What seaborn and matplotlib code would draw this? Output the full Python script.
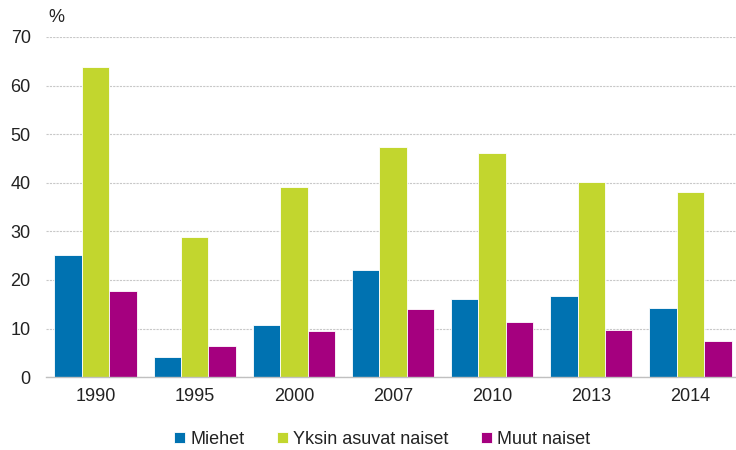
import matplotlib
matplotlib.use("Agg")
import matplotlib.pyplot as plt
import seaborn as sns
import pandas as pd

years = ["1990", "1995", "2000", "2007", "2010", "2013", "2014"]
miehet = [25.1, 4.1, 10.7, 22.0, 16.0, 16.6, 14.3]
yksin = [63.8, 28.8, 39.1, 47.4, 46.1, 40.1, 38.1]
muut = [17.7, 6.4, 9.5, 14.0, 11.4, 9.7, 7.4]
series = ["Miehet", "Yksin asuvat naiset", "Muut naiset"]
colors = ["#0072B1", "#C2D62E", "#A5007F"]

rows = []
for name, vals in zip(series, [miehet, yksin, muut]):
    for y, v in zip(years, vals):
        rows.append({"year": y, "value": v, "series": name})
df = pd.DataFrame(rows)

sns.set_style("white")
plt.rcParams['font.family'] = ['Liberation Sans', 'DejaVu Sans']

fig = plt.figure(figsize=(7.36, 4.5), dpi=100)
ax = fig.add_axes([46/736, 0.162, 690/736, 0.756])
sns.barplot(data=df, x="year", y="value", hue="series", palette=colors,
            order=years, hue_order=series, width=0.83, saturation=1,
            edgecolor="white", linewidth=0.6, ax=ax)

ax.set_ylim(0, 70)
ax.set_xlim(-0.5, 6.46)
ax.set_yticks(range(0, 71, 10))
ax.yaxis.grid(True, linestyle=(0, (2, 1)), color="#c8c8c8", linewidth=0.8)
ax.set_axisbelow(True)
for s in ["top", "right", "left"]:
    ax.spines[s].set_visible(False)
ax.spines["bottom"].set_color("#c0c0c0")
ax.spines["bottom"].set_linewidth(1)
ax.tick_params(axis="both", length=0, labelsize=13, colors="#222222")
ax.tick_params(axis="y", pad=11)
ax.tick_params(axis="x", pad=8)
ax.set_xlabel("")
ax.set_ylabel("")
fig.text(48/736, 1 - 18/450, "%", fontsize=13, color="#222222", ha="left", va="center")

leg = ax.legend(loc="upper center", bbox_to_anchor=((382 - 46)/690, -0.11), ncol=3, frameon=False,
                fontsize=13, handlelength=0.6, handleheight=0.6, handletextpad=0.3,
                columnspacing=1.8)
for t in leg.get_texts():
    t.set_color("#222222")

fig.savefig("out.png", dpi=100)
